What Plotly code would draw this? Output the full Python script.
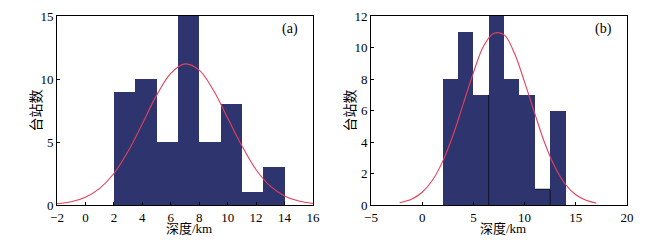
import plotly.graph_objects as go
from plotly.subplots import make_subplots

# ---- data ----
bin_edges_a = [2, 3.5, 5, 6.5, 8, 9.5, 11, 12.5, 14]
counts_a = [9, 10, 5, 15, 5, 8, 1, 3]
curve_x_a = [-2, -1, 0, 1, 2, 3, 4, 5, 6, 7, 8, 9, 10, 11, 12, 13, 14, 15, 16]
curve_y_a = [0.1, 0.26, 0.62, 1.32, 2.5, 4.26, 6.45, 8.7, 10.45, 11.2, 10.7, 9.1, 6.9, 4.7, 2.8, 1.5, 0.72, 0.31, 0.12]

bin_edges_b = [2, 3.5, 5, 6.5, 8, 9.5, 11, 12.5, 14]
counts_b = [8, 11, 7, 12, 8, 7, 1, 6]
curve_x_b = [-2.2, -1, 0, 1, 2, 3, 4, 5, 6, 7, 8, 9, 10, 11, 12, 13, 14, 15, 16, 17]
curve_y_b = [0.14, 0.38, 0.81, 1.57, 2.77, 4.41, 6.4, 8.4, 10.1, 10.9, 10.8, 9.65, 7.8, 5.8, 3.87, 2.36, 1.3, 0.65, 0.3, 0.12]

# bars of (b) whose right edge (and top, second list) show a dark outline
dark_right_b = [2, 6]
dark_top_b = [6]

xticks_a = [-2, 0, 2, 4, 6, 8, 10, 12, 14, 16]
yticks_a = [0, 5, 10, 15]
xticks_b = [-5, 0, 5, 10, 15, 20]
yticks_b = [0, 2, 4, 6, 8, 10, 12]

panel_labels = ["(a)", "(b)"]
x_title = "深度/km"
y_title = "台站数"

BAR = "#2e346e"
RED = "#e3405a"
FONT = "Liberation Serif, Times New Roman, Noto Sans CJK SC"
TFONT = dict(family=FONT, size=13, color="black")

def centers(edges):
    return [(edges[i] + edges[i + 1]) / 2 for i in range(len(edges) - 1)]

def widths(edges):
    return [edges[i + 1] - edges[i] for i in range(len(edges) - 1)]

def minus(vals):
    return [str(v).replace("-", "\u2212") for v in vals]

fig = make_subplots(rows=1, cols=2)

fig.add_trace(go.Bar(x=centers(bin_edges_a), y=counts_a, width=widths(bin_edges_a),
                     marker=dict(color=BAR, line=dict(width=0)), showlegend=False), 1, 1)
fig.add_trace(go.Scatter(x=curve_x_a, y=curve_y_a, mode="lines", line=dict(color=RED, width=1.1, shape="spline"),
                         showlegend=False), 1, 1)
fig.add_trace(go.Bar(x=centers(bin_edges_b), y=counts_b, width=widths(bin_edges_b),
                     marker=dict(color=BAR, line=dict(width=0)), showlegend=False), 1, 2)

# dark outline pieces of (b), built from the bin edges and counts
ox, oy = [], []
for i in dark_right_b:
    ox += [bin_edges_b[i + 1], bin_edges_b[i + 1], None]
    oy += [0, counts_b[i], None]
for i in dark_top_b:
    ox += [bin_edges_b[i], bin_edges_b[i + 1], None]
    oy += [counts_b[i], counts_b[i], None]
fig.add_trace(go.Scatter(x=ox, y=oy, mode="lines", line=dict(color="#111326", width=1),
                         showlegend=False, hoverinfo="skip"), 1, 2)

fig.add_trace(go.Scatter(x=curve_x_b, y=curve_y_b, mode="lines", line=dict(color=RED, width=1.1, shape="spline"),
                         showlegend=False), 1, 2)

# the page body adds an 8 px margin, so the figure is laid out 8 px smaller
OFF = 8
W, H = 656 - OFF, 242 - OFF
T, B = 16 - OFF, 242 - 205
dom_a = [(57 - OFF) / W, (313 - OFF) / W]
dom_b = [(371 - OFF) / W, (627 - OFF) / W]

axis_common = dict(showgrid=False, zeroline=False, showline=True, linecolor="black", linewidth=1,
                   mirror=True, ticks="inside", ticklen=3, tickcolor="black", automargin=False,
                   tickfont=TFONT)

fig.update_xaxes(**axis_common)
fig.update_yaxes(**axis_common)

fig.update_layout(
    xaxis=dict(domain=dom_a, range=[-2, 16], tickvals=xticks_a, ticktext=minus(xticks_a)),
    yaxis=dict(domain=[0, 1], range=[0, 15], tickvals=yticks_a),
    xaxis2=dict(domain=dom_b, range=[-5, 20], tickvals=xticks_b, ticktext=minus(xticks_b)),
    yaxis2=dict(domain=[0, 1], range=[0, 12], tickvals=yticks_b),
    width=W, height=H,
    margin=dict(l=0, r=0, t=T, b=B, autoexpand=False),
    paper_bgcolor="white", plot_bgcolor="white",
    bargap=0,
)

for i, (xr, yr) in enumerate([("x domain", "y domain"), ("x2 domain", "y2 domain")]):
    fig.add_annotation(text=panel_labels[i], xref=xr, yref=yr, x=0.95, y=0.93, xanchor="right",
                       yanchor="middle", showarrow=False, font=dict(family=FONT, size=14, color="black"))
    fig.add_annotation(text=x_title, xref=xr, yref=yr, x=0.5, y=0, xshift=4, yshift=-23,
                       xanchor="center", yanchor="middle", showarrow=False,
                       font=dict(family=FONT, size=13, color="black"))
    fig.add_annotation(text=y_title, xref=xr, yref=yr, x=0, y=0.5, xshift=-21, textangle=-90,
                       xanchor="center", yanchor="middle", showarrow=False,
                       font=dict(family=FONT, size=14, color="black"))

fig.write_html("out.html")
